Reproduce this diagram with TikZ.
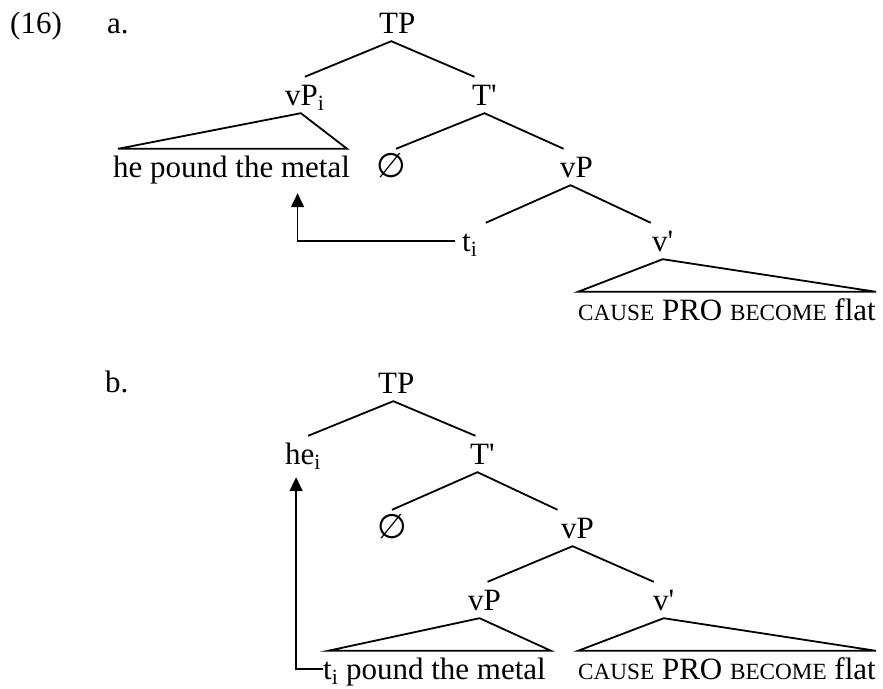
\documentclass[tikz,border=0pt]{standalone}
\usepackage{fontspec}
\setmainfont{Liberation Serif}
\newfontfamily\symfont{DejaVu Sans}
\usetikzlibrary{arrows.meta}
% small capitals faked by a smaller size of the upright capitals
\newcommand\smcap[1]{{\fontsize{23.2}{28}\selectfont #1}}
\newcommand\prm{\textquotesingle}
\newcommand\nullset{{\symfont\fontsize{34}{40}\selectfont ∅}}
\begin{document}
\begin{tikzpicture}[x=1pt,y=-1pt,
  every node/.style={font=\fontsize{31}{37}\selectfont, inner xsep=0pt,
    inner ysep=8pt, text height=20pt, text depth=0pt, anchor=base west},
  branch/.style={line width=1.8pt, line join=miter},
  mv/.style={line width=1.8pt, -{Triangle[width=13pt,length=14pt]}}]
\useasboundingbox (0,0) rectangle (883,688);

% ---------- (16a) ----------
\node (ex) at (10,33) {(16)};
\node (la) at (107,33) {a.};
\node (TPa) at (379,33) {TP};
\node (vPia) at (285,105) {vP\textsubscript{i}};
\node (Tba) at (472,105) {T\prm};
\node (hpm) at (113,177) {he pound the metal};
\node (nula) at (376,177) {\nullset};
\node (vPa) at (560,177) {vP};
\node (tia) at (462,251) {t\textsubscript{i}};
\node (vba) at (652,251) {v\prm};
\node (cpa) at (578,320) {\smcap{CAUSE} PRO \smcap{BECOME} flat};

\draw[branch] (vPia.north) -- ([xshift=-6pt]TPa.south) -- ([xshift=-10pt]Tba.north);
\draw[branch] ([xshift=5pt]hpm.north west) -- ([xshift=-4pt]vPia.south)
  -- ([xshift=-3pt]hpm.north east) -- cycle;
\draw[branch] ([xshift=5pt]nula.north) -- (Tba.south) -- ([xshift=-13pt]vPa.north);
\draw[branch] ([xshift=16pt]tia.north) -- ([xshift=-6pt]vPa.south) -- ([xshift=-12pt]vba.north);
\draw[branch] (cpa.north west) -- (vba.south) -- (cpa.north east) -- cycle;
\draw[mv] ([xshift=-7pt]tia.west) -| ([xshift=66pt,yshift=-8pt]hpm.south);

% ---------- (16b) ----------
\node (lb) at (105,392) {b.};
\node (TPb) at (378,393) {TP};
\node (heb) at (285,464) {he\textsubscript{i}};
\node (Tbb) at (470,464) {T\prm};
\node (nulb) at (377,538) {\nullset};
\node (vPb) at (561,538) {vP};
\node (vPlb) at (468,610) {vP};
\node (vbb) at (653,610) {v\prm};
\node (tpm) at (323,679) {t\textsubscript{i} pound the metal};
\node (cpb) at (578,679) {\smcap{CAUSE} PRO \smcap{BECOME} flat};

\draw[branch] ([xshift=5pt]heb.north) -- ([xshift=-3pt]TPb.south) -- ([xshift=-7pt]Tbb.north);
\draw[branch] (nulb.north) -- ([xshift=-5pt]Tbb.south) -- ([xshift=-20pt]vPb.north);
\draw[branch] ([xshift=3pt]vPlb.north) -- ([xshift=-5pt]vPb.south) -- ([xshift=-10pt]vbb.north);
\draw[branch] ([xshift=5pt]tpm.north west) -- ([xshift=-5pt]vPlb.south)
  -- ([xshift=5pt]tpm.north east) -- cycle;
\draw[branch] (cpb.north west) -- (vbb.south) -- (cpb.north east) -- cycle;
\draw[mv] (tpm.west) -| ([xshift=-7pt,yshift=-5pt]heb.south);
\end{tikzpicture}
\end{document}
